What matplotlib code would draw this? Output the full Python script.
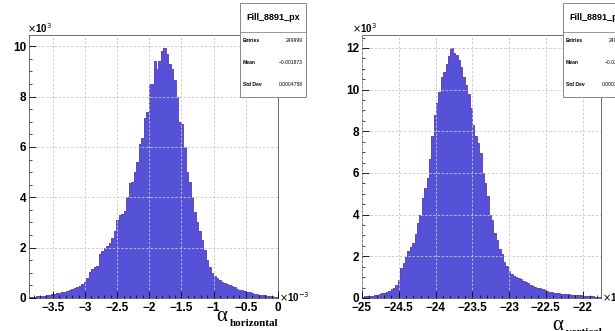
import numpy as np
import matplotlib
matplotlib.use("Agg")
import matplotlib.pyplot as plt
from matplotlib.patches import Rectangle
from matplotlib.ticker import MultipleLocator, FuncFormatter

# bin contents in units of 10^3 entries, 100 bins each
h_counts = [0.03, 0.04, 0.05, 0.06, 0.07, 0.08, 0.09, 0.11, 0.12, 0.14,
            0.16, 0.18, 0.20, 0.22, 0.24, 0.27, 0.30, 0.34, 0.38, 0.42,
            0.46, 0.55, 0.65, 0.80, 1.05, 1.15, 1.25, 1.28, 1.75, 1.85,
            2.00, 2.05, 2.20, 2.40, 2.65, 3.10, 3.30, 3.35, 3.45, 4.00,
            4.55, 4.60, 5.00, 5.40, 6.10, 6.35, 7.15, 7.40, 8.50, 8.50,
            9.40, 9.10, 9.40, 9.80, 9.95, 9.70, 9.30, 9.10, 8.65, 8.00,
            7.00, 6.90, 6.00, 5.00, 4.60, 4.00, 3.40, 3.00, 2.65, 2.30,
            1.90, 1.50, 1.25, 1.00, 0.88, 0.80, 0.72, 0.65, 0.60, 0.55,
            0.50, 0.46, 0.42, 0.37, 0.33, 0.30, 0.27, 0.24, 0.22, 0.20,
            0.17, 0.15, 0.13, 0.11, 0.10, 0.08, 0.07, 0.06, 0.05, 0.04]
h_range = (-3.87, 0.0)   # x 10^-3

v_counts = [0.07, 0.08, 0.09, 0.10, 0.11, 0.12, 0.15, 0.19, 0.22, 0.25,
            0.28, 0.35, 0.42, 0.50, 0.60, 0.85, 1.45, 1.70, 1.95, 2.25,
            2.45, 2.65, 3.05, 3.60, 4.00, 4.80, 5.30, 5.75, 6.65, 7.75,
            8.80, 9.35, 9.90, 10.60, 10.85, 11.25, 11.60, 12.00, 11.75, 11.65,
            11.40, 11.10, 10.60, 10.20, 9.80, 9.10, 8.30, 7.75, 7.45, 6.95,
            6.00, 5.50, 4.90, 4.00, 3.75, 3.10, 2.80, 2.35, 2.10, 1.75,
            1.55, 1.30, 1.15, 1.05, 1.00, 0.95, 0.90, 0.82, 0.76, 0.70,
            0.62, 0.58, 0.54, 0.50, 0.46, 0.42, 0.38, 0.34, 0.30, 0.28,
            0.26, 0.24, 0.23, 0.21, 0.20, 0.19, 0.18, 0.16, 0.15, 0.14,
            0.13, 0.12, 0.11, 0.10, 0.09, 0.09, 0.08, 0.07, 0.07, 0.06]
v_range = (-25.0, -21.75)  # x 10^-3

h_stats = ["Fill_8891_px", "249999", "\u22120.001873", "0.0004758"]
v_stats = ["Fill_8891_py", "249999", "\u22120.02369", "0.0003826"]

W, H = 615, 331
fill_col = '#5552d8'
line_col = '#6b45b8'

fig = plt.figure(figsize=(W / 100, H / 100), dpi=100)


def fx(x):
    return x / W


def fy(y):
    return 1 - y / H


def fmt(v, pos):
    return ('%g' % v).replace('-', '\u2212')


def panel(rect, counts, rng, ytop, yint):
    ax = fig.add_axes(rect)
    edges = np.linspace(rng[0], rng[1], len(counts) + 1)
    ax.stairs(counts, edges, fill=True, color=fill_col)
    ax.stairs(counts, edges, color=line_col, lw=0.7)
    ax.set_xlim(rng)
    ax.set_ylim(0, ytop)
    ax.xaxis.set_major_locator(MultipleLocator(0.5))
    ax.xaxis.set_minor_locator(MultipleLocator(0.1))
    ax.yaxis.set_major_locator(MultipleLocator(yint))
    ax.yaxis.set_minor_locator(MultipleLocator(0.5))
    ax.xaxis.set_major_formatter(FuncFormatter(fmt))
    ax.yaxis.set_major_formatter(FuncFormatter(fmt))
    ax.tick_params(which='both', direction='in', top=False, right=False)
    ax.tick_params(which='major', length=5, width=0.6, labelsize=8.5, pad=2)
    ax.tick_params(axis='x', which='major', pad=3)
    ax.tick_params(which='minor', length=2.5, width=0.5)
    for lab in ax.get_xticklabels() + ax.get_yticklabels():
        lab.set_fontweight('bold')
        lab.set_family('Liberation Sans')
    ax.grid(True, which='major', color='#c8c8c8', lw=0.6, ls=(0, (3, 2)))
    ax.set_axisbelow(False)
    for s in ax.spines.values():
        s.set_linewidth(0.6)
        s.set_color('#555555')
    return ax


ax1 = panel([fx(29), fy(298), fx(278) - fx(29), fy(35) - fy(298)],
            h_counts, h_range, 10.45, 2)
ax2 = panel([fx(362), fy(298), fx(601) - fx(362), fy(35) - fy(298)],
            v_counts, v_range, 12.62, 2)

# exponent labels
for x, y in [(27, 35), (352, 35)]:
    fig.text(fx(x), fy(y), r'$\times$10$^{3}$', fontsize=7, family='Liberation Sans',
             fontweight='bold', ha='left', va='bottom')
for x in [279, 602]:
    fig.text(fx(x), fy(297), r'$\times$10$^{-3}$', fontsize=7, family='Liberation Sans',
             fontweight='bold', ha='left', va='center')

# axis titles
fig.text(fx(216), fy(321), '\u03b1', fontsize=15, family='Liberation Serif',
         ha='left', va='baseline')
fig.text(fx(230), fy(326.5), 'horizontal', fontsize=8, family='Liberation Serif',
         fontweight='bold', ha='left', va='baseline')
fig.text(fx(552), fy(330), '\u03b1', fontsize=15, family='Liberation Serif',
         ha='left', va='baseline')
fig.text(fx(566), fy(335), 'vertical', fontsize=8, family='Liberation Serif',
         fontweight='bold', ha='left', va='baseline')


def stat_box(x0, stats):
    x1, y0, y1 = x0 + 66, 3, 97
    fig.patches.append(Rectangle((fx(x0), fy(y1)), fx(x1) - fx(x0), fy(y0) - fy(y1),
                                 transform=fig.transFigure, facecolor='white',
                                 edgecolor='#888888', lw=0.7, zorder=5))
    fig.add_artist(plt.Line2D([fx(x0), fx(x1)], [fy(31.5), fy(31.5)],
                              color='#888888', lw=0.6, zorder=6))
    fig.text(fx((x0 + x1) / 2), fy(17), stats[0], fontsize=6.5, family='Liberation Sans',
             fontweight='bold', ha='center', va='center', zorder=7)
    names = ['Entries', 'Mean', 'Std Dev']
    for i, (nm, val) in enumerate(zip(names, stats[1:])):
        y = 40 + i * 22.5
        fig.text(fx(x0 + 3), fy(y), nm, fontsize=3.6, family='Liberation Sans',
                 fontweight='bold', ha='left', va='center', zorder=7)
        fig.text(fx(x1 - 3), fy(y), val, fontsize=3.6, family='Liberation Sans',
                 ha='right', va='center', zorder=7)


stat_box(240, h_stats)
stat_box(563, v_stats)

fig.savefig('out.png', dpi=100)
